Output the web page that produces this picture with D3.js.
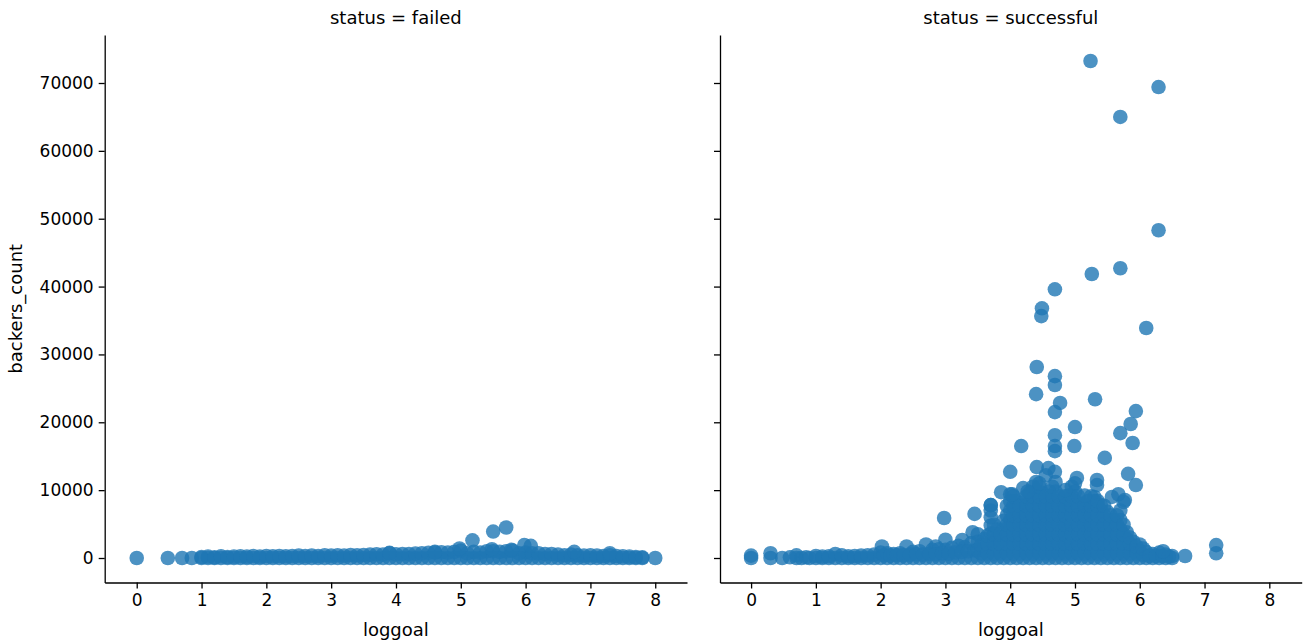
<!DOCTYPE html>
<html>
<head>
<meta charset="utf-8">
<script src="https://cdn.jsdelivr.net/npm/d3@7"></script>
<style>
  body { margin: 0; background: #fff; }
  svg text { font-family: "DejaVu Sans", sans-serif; fill: #000; }
</style>
</head>
<body>
<script>
// Facet titles and axis labels
const panelTitles = ['status = failed', 'status = successful'];
const xLabel = 'loggoal';
const yLabel = 'backers_count';
const xTicks = [0, 1, 2, 3, 4, 5, 6, 7, 8];
const yTicks = [0, 10000, 20000, 30000, 40000, 50000, 60000, 70000];

// failed projects: [loggoal, backers_count]
const failedBand = [
  [0,0],[0.48,0],[0.7,0],[0.85,0],
  [1.0,0],[1.0,150],[1.1,0],[1.1,200],[1.2,0],[1.2,100],[1.3,0],[1.3,250],[1.4,0],[1.4,150],
  [1.5,0],[1.5,200],[1.6,0],[1.6,250],[1.7,0],[1.7,200],[1.8,0],[1.8,300],[1.9,0],[1.9,200],
  [2.0,0],[2.0,300],[2.1,0],[2.1,250],[2.2,0],[2.2,300],[2.3,0],[2.3,250],[2.4,0],[2.4,300],
  [2.5,0],[2.5,350],[2.6,0],[2.6,300],[2.7,0],[2.7,350],[2.8,0],[2.8,300],[2.9,0],[2.9,400],
  [3.0,0],[3.0,350],[3.1,0],[3.1,400],[3.2,0],[3.2,350],[3.3,0],[3.3,450],[3.4,0],[3.4,400],
  [3.5,0],[3.5,450],[3.6,0],[3.6,500],[3.7,0],[3.7,550],[3.8,0],[3.8,500],[3.9,0],[3.9,750],
  [4.0,0],[4.0,550],[4.1,0],[4.1,600],[4.2,0],[4.2,600],[4.3,0],[4.3,650],[4.4,0],[4.4,700],
  [4.5,0],[4.5,750],[4.6,0],[4.6,900],[4.7,0],[4.7,850],[4.8,0],[4.8,800],[4.9,0],[4.9,900],
  [5.0,0],[5.0,1100],[5.1,0],[5.1,700],[5.2,0],[5.2,900],[5.3,0],[5.3,800],[5.4,0],[5.4,1000],
  [5.5,0],[5.5,1000],[5.6,0],[5.6,900],[5.7,0],[5.7,1000],[5.8,0],[5.8,1100],[5.9,0],[5.9,700],
  [6.0,0],[6.0,800],[6.1,0],[6.1,700],[6.2,0],[6.2,700],[6.3,0],[6.3,600],[6.4,0],[6.4,600],
  [6.5,0],[6.5,500],[6.6,0],[6.6,400],[6.7,0],[6.7,500],[6.8,0],[6.8,400],[6.9,0],[6.9,350],
  [7.0,0],[7.0,400],[7.1,0],[7.1,350],[7.2,0],[7.2,300],[7.3,0],[7.3,400],[7.4,0],[7.4,300],
  [7.5,0],[7.5,250],[7.6,0],[7.6,200],[7.7,0],[7.7,150],[7.8,0],[7.8,100],[8.0,0]
];
const failedOutliers = [
  [5.18,2600],[5.5,3900],[5.7,4500],[5.98,1900],[6.08,1800],[4.98,1400],
  [5.48,1300],[5.78,1200],[6.75,900],[7.3,700],[3.9,700],[4.6,800]
];

// successful projects: [loggoal, backers_count]
const successBand = [
  [0,0],[0,350],[0.3,0],[0.3,700],[0.48,0],[0.6,100],[0.7,0],[0.7,400],[0.78,0],[0.85,100],
  [0.9,0],[1.0,0],[1.0,300],[1.1,0],[1.1,200],[1.2,0],[1.2,250],[1.3,0],[1.3,600],[1.4,0],
  [1.4,400],[1.5,0],[1.5,250],[1.6,0],[1.6,300],[1.7,0],[1.7,350],[1.8,0],[1.8,400],[1.9,0],
  [1.9,500],[2.0,0],[2.0,800],[2.02,1700],[2.1,0],[2.1,700],[2.2,0],[2.2,600],[2.3,0],[2.3,700],
  [2.4,0],[2.4,1700],[2.5,0],[2.5,900],[2.6,0],[2.6,1000],[2.7,0],[2.7,2000],[2.8,0],[2.8,1200],
  [2.85,1700],[2.9,0],[2.9,1300],[3.0,0],[3.0,1200],[3.0,2700],[3.1,0],[3.1,1500],[3.2,0],
  [3.2,1800],[3.3,0],[3.3,1600],[3.4,0],[3.4,2200],[3.42,3800],[3.5,3500],[3.26,2650],
  [2.05,400],[2.15,350],[2.25,450],[2.35,400],[2.45,500],[2.55,550],[2.65,500],[2.75,600],
  [2.85,550],[2.95,700],[3.05,650],[3.15,800],[3.25,900],[3.35,1000],[3.45,1100]
];
// stacked columns in the dense area: [loggoal, backers values]
const successColumns = [
  [3.5, [0, 1200, 2400]],
  [3.6, [0, 1400, 2800]],
  [3.7, [0, 1200, 2400, 3600, 4800, 6000, 7000, 7800]],
  [3.8, [0, 1400, 2800, 4200]],
  [3.9, [0, 1400, 2800, 4200, 5500]],
  [4.0, [0, 1400, 2800, 4200, 5600, 7000, 8400, 9400]],
  [4.1, [0, 1400, 2800, 4200, 5600, 7000, 8400]],
  [4.2, [0, 1400, 2800, 4200, 5600, 7000, 8200]],
  [4.3, [0, 1400, 2800, 4200, 5600, 7000, 8400, 9600]],
  [4.4, [0, 1400, 2800, 4200, 5600, 7000, 8400, 9800, 11200]],
  [4.5, [0, 1400, 2800, 4200, 5600, 7000, 8400, 9600]],
  [4.6, [0, 1400, 2800, 4200, 5600, 7000, 8400, 9800]],
  [4.7, [0, 1400, 2800, 4200, 5600, 7000, 8400, 9800, 11200]],
  [4.8, [0, 1400, 2800, 4200, 5600, 7000, 8400]],
  [4.9, [0, 1400, 2800, 4200, 5600, 7000, 8400, 9200]],
  [5.0, [0, 1400, 2800, 4200, 5600, 7000, 8400, 9800, 11000]],
  [5.1, [0, 1400, 2800, 4200, 5600, 7000, 8000]],
  [5.2, [0, 1400, 2800, 4200, 5600, 7000, 8400]],
  [5.3, [0, 1400, 2800, 4200, 5600, 7000, 8400, 9000]],
  [5.4, [0, 1400, 2800, 4200, 5600, 7000, 7800]],
  [5.5, [0, 1400, 2800, 4200, 5600, 6800]],
  [5.6, [0, 1400, 2800, 4200, 5600]],
  [5.7, [0, 1400, 2800, 4200, 5600, 7000]],
  [5.8, [0, 1400, 2800, 3800]],
  [5.9, [0, 1200, 2400]],
  [6.0, [0, 1000, 2000]],
  [6.1, [0, 900]],
  [6.2, [0, 600]],
  [6.3, [0, 800]],
  [6.4, [0, 500]],
  [6.5, [0, 300]]
];
// in-between columns that fill the gaps of the dense area
const successMidColumns = [
  [3.55, [700, 1900]],
  [3.65, [700, 2100, 3300]],
  [3.75, [700, 2100, 3500, 4900]],
  [3.85, [700, 2100, 3500]],
  [3.95, [700, 2100, 3500, 4900, 6300, 7700]],
  [4.05, [700, 2100, 3500, 4900, 6300, 7700, 9100]],
  [4.15, [700, 2100, 3500, 4900, 6300, 7700]],
  [4.25, [700, 2100, 3500, 4900, 6300, 7700, 9100]],
  [4.35, [700, 2100, 3500, 4900, 6300, 7700, 9100, 10500]],
  [4.45, [700, 2100, 3500, 4900, 6300, 7700, 9100, 10500]],
  [4.55, [700, 2100, 3500, 4900, 6300, 7700, 9100, 12200]],
  [4.65, [700, 2100, 3500, 4900, 6300, 7700, 9100, 10500]],
  [4.75, [700, 2100, 3500, 4900, 6300, 7700, 9100]],
  [4.85, [700, 2100, 3500, 4900, 6300, 7700, 9100]],
  [4.95, [700, 2100, 3500, 4900, 6300, 7700, 9100, 10500]],
  [5.05, [700, 2100, 3500, 4900, 6300, 7700, 9100]],
  [5.15, [700, 2100, 3500, 4900, 6300, 7700]],
  [5.25, [700, 2100, 3500, 4900, 6300, 7700, 9100]],
  [5.35, [700, 2100, 3500, 4900, 6300, 7700, 8400]],
  [5.45, [700, 2100, 3500, 4900, 6300, 7700]],
  [5.55, [700, 2100, 3500, 4900, 6300]],
  [5.65, [700, 2100, 3500, 4900, 6300]],
  [5.75, [700, 2100, 3500, 4900]],
  [5.85, [700, 2100, 3000]],
  [5.95, [700, 1700]],
  [6.05, [500, 1400]],
  [6.15, [300]],
  [6.25, [300]],
  [6.35, [300]],
  [6.45, [200]]
];
const successOutliers = [
  [5.24,73240],[6.29,69400],[5.70,65000],[6.29,48300],[5.26,41850],[5.70,42700],
  [6.10,33900],[4.69,39600],[4.49,36800],[4.48,35650],[4.41,28150],[4.69,26800],
  [4.69,25500],[4.40,24150],[5.31,23400],[4.77,22850],[4.69,21500],[5.94,21650],
  [5.86,19750],[5.00,19300],[5.70,18400],[4.69,18100],[5.89,16950],[4.17,16500],
  [4.99,16500],[4.69,16500],[4.69,15750],[5.46,14750],[4.41,13400],[4.59,13250],
  [4.69,12700],[4.00,12700],[5.82,12400],[5.03,11800],[5.34,11500],[5.94,10750],
  [5.34,10750],[3.86,9700],[4.03,9400],[5.67,9400],[5.57,9000],[5.77,8550],
  [5.75,8250],[3.70,7800],[3.45,6500],[2.98,5900],[7.18,1900],[7.18,700],
  [6.70,300],[6.36,1000],[4.2,10300],[4.27,9800],[4.45,11000],[4.85,10000],[5.15,9200]
];

const W = 1306, H = 642;
const panels = [
  {title: panelTitles[0], left: 104.7, right: 687, xDomain: [-0.494, 8.49],
   points: failedBand.concat(failedOutliers), yLabels: true},
  {title: panelTitles[1], left: 720, right: 1301.7, xDomain: [-0.48, 8.5],
   points: successBand
     .concat(successColumns.flatMap(c => c[1].map(v => [c[0], v])))
     .concat(successMidColumns.flatMap(c => c[1].map(v => [c[0], v])))
     .concat(successOutliers), yLabels: false}
];
const plotTop = 35, plotBottom = 582.5;

const svg = d3.select('body').append('svg')
  .attr('width', W).attr('height', H);

const y = d3.scaleLinear().domain([-3610, 77074]).range([plotBottom, plotTop]);

panels.forEach(p => {
  const x = d3.scaleLinear().domain(p.xDomain).range([p.left, p.right]);
  const g = svg.append('g');

  // points
  g.append('g')
    .selectAll('circle')
    .data(p.points)
    .join('circle')
    .attr('cx', d => x(d[0]))
    .attr('cy', d => y(d[1]))
    .attr('r', 7.3)
    .attr('fill', '#1f77b4')
    .attr('fill-opacity', 0.8);

  // x axis
  const xAxis = g.append('g')
    .attr('transform', `translate(0,${plotBottom})`)
    .call(d3.axisBottom(x).tickValues(xTicks).tickSize(6).tickPadding(5).tickSizeOuter(0));
  // y axis
  const yAxis = g.append('g')
    .attr('transform', `translate(${p.left},0)`)
    .call(d3.axisLeft(y).tickValues(yTicks).tickSize(6).tickPadding(5).tickSizeOuter(0)
      .tickFormat(p.yLabels ? d3.format('d') : ''));

  [xAxis, yAxis].forEach(a => {
    a.select('.domain').attr('stroke', '#000').attr('stroke-width', 1.3);
    a.selectAll('.tick line').attr('stroke', '#000').attr('stroke-width', 1.3);
    a.selectAll('.tick text').attr('font-size', 17).attr('fill', '#000')
      .attr('font-family', '"DejaVu Sans", sans-serif');
  });

  // facet title
  svg.append('text')
    .attr('x', (p.left + p.right) / 2).attr('y', 24)
    .attr('text-anchor', 'middle').attr('font-size', 18)
    .text(p.title);

  // x label
  svg.append('text')
    .attr('x', (p.left + p.right) / 2).attr('y', 636)
    .attr('text-anchor', 'middle').attr('font-size', 18)
    .text(xLabel);
});

svg.append('text')
  .attr('transform', `translate(22,${(plotTop + plotBottom) / 2}) rotate(-90)`)
  .attr('text-anchor', 'middle').attr('font-size', 18)
  .text(yLabel);
</script>
</body>
</html>
